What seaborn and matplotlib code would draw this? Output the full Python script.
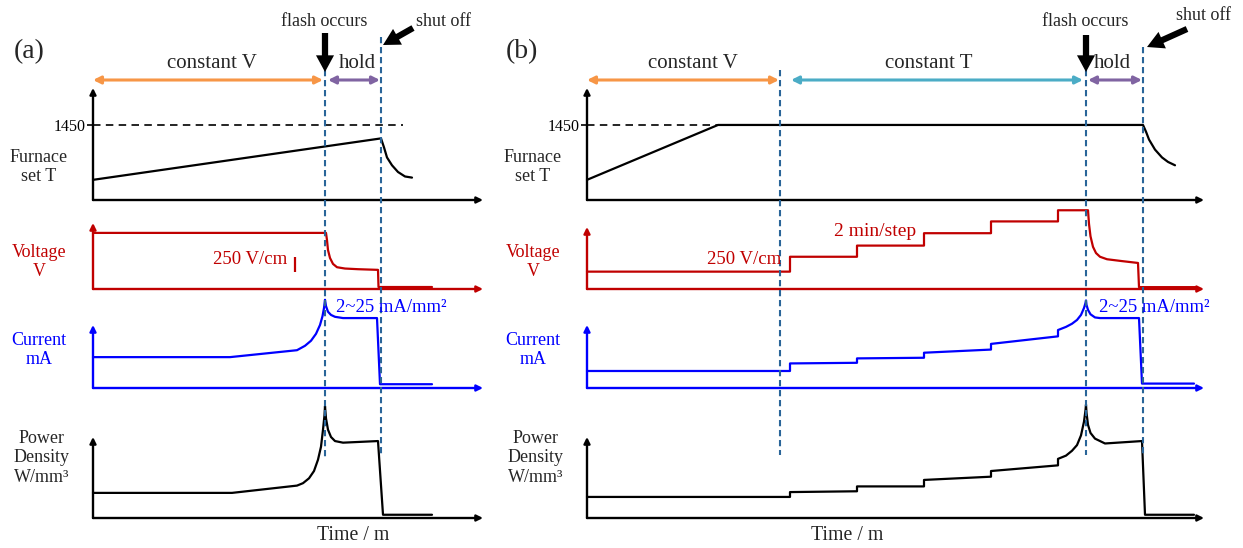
import pandas as pd
import matplotlib.pyplot as plt
import seaborn as sns

W, H = 1243, 548
RED, BLUE, DASH = "#C00000", "#0000FF", "#2A6599"
ORANGE, PURPLE, CYAN = "#F79646", "#8064A2", "#4BACC6"

# ---- panel (a): constant voltage until flash --------------------------------
# time axis in arbitrary minutes, values as a fraction of each axis height
A_T_END = 39.0
A_FLASH, A_SHUTOFF = 23.2, 28.8
A_SET = 0.67  # 1450 level on the furnace axis
A_FURN_T = [0, 28.8, 29.1, 29.4, 29.9, 30.5, 31.2, 31.9]
A_FURN_V = [0.18, 0.55, 0.47, 0.38, 0.31, 0.25, 0.21, 0.20]
A_VOLT_T = [0, 23.3, 23.4, 23.5, 23.7, 24.0, 24.4, 25.2, 26.5, 28.5, 28.55, 33.9]
A_VOLT_V = [0.85, 0.85, 0.74, 0.59, 0.47, 0.38, 0.33, 0.31, 0.30, 0.29, 0.03, 0.03]
A_CURR_T = [0, 13.7, 20.4, 21.2, 21.8, 22.3, 22.7, 22.95, 23.1, 23.2,
            23.3, 23.5, 23.8, 24.2, 25.0, 28.4, 28.7, 33.9]
A_CURR_V = [0.49, 0.49, 0.60, 0.67, 0.75, 0.86, 1.00, 1.14, 1.27, 1.40,
            1.30, 1.21, 1.16, 1.13, 1.11, 1.11, 0.06, 0.06]
A_POW_T = [0, 13.9, 20.4, 21.0, 21.6, 22.1, 22.5, 22.8, 23.0, 23.15, 23.2,
           23.3, 23.5, 23.8, 24.2, 25.0, 28.5, 29.0, 33.9]
A_POW_V = [0.31, 0.31, 0.40, 0.43, 0.49, 0.58, 0.72, 0.88, 1.09, 1.27, 1.38,
           1.23, 1.09, 1.00, 0.95, 0.93, 0.95, 0.04, 0.04]

# ---- panel (b): constant V, then constant T with 2 min voltage steps --------
B_T_END = 61.7
B_CONST_T, B_FLASH, B_SHUTOFF = 19.3, 49.9, 55.6
B_SET = 0.67
B_FURN_T = [0, 13.1, 55.6, 55.9, 56.2, 56.8, 57.5, 58.1, 58.8]
B_FURN_V = [0.18, 0.67, 0.67, 0.61, 0.54, 0.45, 0.38, 0.34, 0.31]
B_VOLT_T = [0, 20.3, 20.3, 27.0, 27.0, 33.7, 33.7, 40.4, 40.4, 47.1, 47.1, 50.1,
            50.2, 50.35, 50.6, 50.9, 51.3, 52.0, 53.5, 55.1, 55.2, 61.0]
B_VOLT_V = [0.28, 0.28, 0.52, 0.52, 0.70, 0.70, 0.90, 0.90, 1.09, 1.09, 1.27, 1.27,
            1.05, 0.85, 0.68, 0.58, 0.52, 0.48, 0.45, 0.42, 0.03, 0.03]
B_CURR_T = [0, 20.3, 20.3, 27.0, 27.0, 33.7, 33.7, 40.4, 40.4, 47.1, 47.1, 47.9,
            48.5, 49.0, 49.4, 49.7, 49.85, 49.9, 49.95, 50.1, 50.35, 50.8, 51.3,
            55.2, 55.5, 60.7]
B_CURR_V = [0.27, 0.27, 0.39, 0.40, 0.47, 0.48, 0.56, 0.61, 0.70, 0.82, 0.92, 0.97,
            1.02, 1.08, 1.16, 1.27, 1.35, 1.39, 1.32, 1.24, 1.17, 1.12, 1.11,
            1.11, 0.07, 0.07]
B_POW_T = [0, 20.3, 20.3, 27.0, 27.0, 33.7, 33.7, 40.4, 40.4, 47.1, 47.1, 47.9,
           48.5, 49.0, 49.4, 49.7, 49.85, 49.9, 49.95, 50.1, 50.35, 50.8, 51.8,
           55.5, 55.8, 60.7]
B_POW_V = [0.26, 0.26, 0.32, 0.33, 0.39, 0.39, 0.47, 0.51, 0.58, 0.65, 0.73, 0.77,
           0.83, 0.90, 1.02, 1.19, 1.33, 1.40, 1.30, 1.15, 1.05, 0.98, 0.92,
           0.95, 0.04, 0.04]

sns.set_theme(style="white")
plt.rcParams["font.family"] = ["Liberation Serif", "DejaVu Serif"]
FS = 13

fig = plt.figure(figsize=(W / 100, H / 100), dpi=100)


def px_axes(x0, x1, top, bottom):
    return fig.add_axes([x0 / W, 1 - bottom / H, (x1 - x0) / W, (bottom - top) / H])


def trace(ax, t, v, color, t_end):
    df = pd.DataFrame({"t": t, "v": v})
    sns.lineplot(data=df, x="t", y="v", ax=ax, color=color, lw=1.6,
                 sort=False, estimator=None)
    ax.set_xlim(0, t_end); ax.set_ylim(0, 1)
    for s in ax.spines.values():
        s.set_visible(False)
    ax.set_xticks([]); ax.set_yticks([])
    ax.set(xlabel=None, ylabel=None)
    ax.patch.set_alpha(0)
    for ln in ax.lines:
        ln.set_clip_on(False)
    kw = dict(arrowstyle="-|>", color=color, lw=1.7, mutation_scale=9, shrinkA=0, shrinkB=0)
    ax.annotate("", xy=(1, 0), xytext=(0, 0), xycoords="axes fraction", arrowprops=kw)
    ax.annotate("", xy=(0, 1), xytext=(0, 0), xycoords="axes fraction", arrowprops=kw)


def column(x0, x1, t_end, furn, volt, curr, pow_, set_level, set_end, volt_top):
    ax = px_axes(x0, x1, 88, 200)
    trace(ax, *furn, "black", t_end)
    ax.hlines(set_level, 0, set_end, color="black", lw=1.2, linestyles=(0, (4.5, 3.2)))
    ax.set_yticks([set_level]); ax.set_yticklabels(["1450"])
    ax.tick_params(left=True, length=4, width=1.2, pad=1, labelsize=11.5, colors="black")
    trace(px_axes(x0, x1, volt_top, 289), *volt, RED, t_end)
    trace(px_axes(x0, x1, 325, 388), *curr, BLUE, t_end)
    trace(px_axes(x0, x1, 437, 518), *pow_, "black", t_end)
    ov = fig.add_axes([x0 / W, 0, (x1 - x0) / W, 1])
    ov.set_xlim(0, t_end); ov.set_ylim(H, 0); ov.axis("off")
    lab = dict(ha="center", va="center", fontsize=FS, linespacing=1.2)
    ov.text(-5.4, 167, "Furnace\nset T", **lab)
    ov.text(-5.4, 262, "Voltage\nV", color=RED, **lab)
    ov.text(-5.4, 350, "Current\nmA", color=BLUE, **lab)
    ov.text(-5.1, 458, "Power\nDensity\nW/mm³", **lab)
    ov.text(26.0, 535, "Time / m", ha="center", va="center", fontsize=14.3)
    return ov


def span(ov, t0, t1, color):
    ov.annotate("", xy=(t1, 80), xytext=(t0, 80), annotation_clip=False,
                arrowprops=dict(arrowstyle="<|-|>", color=color, lw=2.2,
                                mutation_scale=11, shrinkA=0, shrinkB=0))


def block_arrow(ov, tail, head):
    ov.annotate("", xy=head, xytext=tail, annotation_clip=False,
                arrowprops=dict(facecolor="black", edgecolor="none", width=4.5,
                                headwidth=13, headlength=12, shrink=0))


BIG = 15

# ---- (a) ----
ov = column(93, 483, A_T_END, (A_FURN_T, A_FURN_V), (A_VOLT_T, A_VOLT_V),
            (A_CURR_T, A_CURR_V), (A_POW_T, A_POW_V), A_SET, 31.0, 223)
ov.vlines(A_FLASH, 70, 457, color=DASH, lw=1.5, linestyles=(0, (3, 1.8)))
ov.vlines(A_SHUTOFF, 37, 457, color=DASH, lw=1.5, linestyles=(0, (3, 1.8)))
ov.text(-6.4, 52, "(a)", ha="center", va="center", fontsize=20)
span(ov, 0, 23.0, ORANGE)
span(ov, 23.5, 28.7, PURPLE)
ov.text(11.9, 64, "constant V", ha="center", va="center", fontsize=BIG)
ov.text(26.4, 64, "hold", ha="center", va="center", fontsize=BIG)
ov.text(23.1, 21, "flash occurs", ha="center", va="center", fontsize=FS)
ov.text(35.1, 21, "shut off", ha="center", va="center", fontsize=FS)
block_arrow(ov, (A_FLASH, 33), (A_FLASH, 72))
block_arrow(ov, (32.0, 28), (29.0, 45))
ov.text(15.7, 259, "250 V/cm", color=RED, ha="center", va="center", fontsize=13.5)
ov.vlines(20.2, 257, 272, color=RED, lw=1.6)
ov.text(29.8, 307, "2~25 mA/mm²", color=BLUE, ha="center", va="center", fontsize=13.4)

# ---- (b) ----
ov = column(587, 1204, B_T_END, (B_FURN_T, B_FURN_V), (B_VOLT_T, B_VOLT_V),
            (B_CURR_T, B_CURR_V), (B_POW_T, B_POW_V), B_SET, 25.3, 227)
for t, top in [(B_CONST_T, 70), (B_FLASH, 70), (B_SHUTOFF, 47)]:
    ov.vlines(t, top, 455, color=DASH, lw=1.5, linestyles=(0, (3, 1.8)))
ov.text(-6.5, 52, "(b)", ha="center", va="center", fontsize=20)
span(ov, 0, 19.2, ORANGE)
span(ov, 20.4, 49.6, CYAN)
span(ov, 50.1, 55.5, PURPLE)
ov.text(10.6, 64, "constant V", ha="center", va="center", fontsize=BIG)
ov.text(34.2, 64, "constant T", ha="center", va="center", fontsize=BIG)
ov.text(52.5, 64, "hold", ha="center", va="center", fontsize=BIG)
ov.text(49.8, 21, "flash occurs", ha="center", va="center", fontsize=FS)
ov.text(61.7, 15, "shut off", ha="center", va="center", fontsize=FS)
block_arrow(ov, (B_FLASH, 35), (B_FLASH, 72))
block_arrow(ov, (60.0, 29), (56.0, 47))
ov.text(15.7, 259, "250 V/cm", color=RED, ha="center", va="center", fontsize=13.5)
ov.text(28.8, 232, "2 min/step", color=RED, ha="center", va="center", fontsize=14)
ov.text(56.7, 307, "2~25 mA/mm²", color=BLUE, ha="center", va="center", fontsize=13.4)

fig.savefig("out.png", dpi=100)
plt.close(fig)
